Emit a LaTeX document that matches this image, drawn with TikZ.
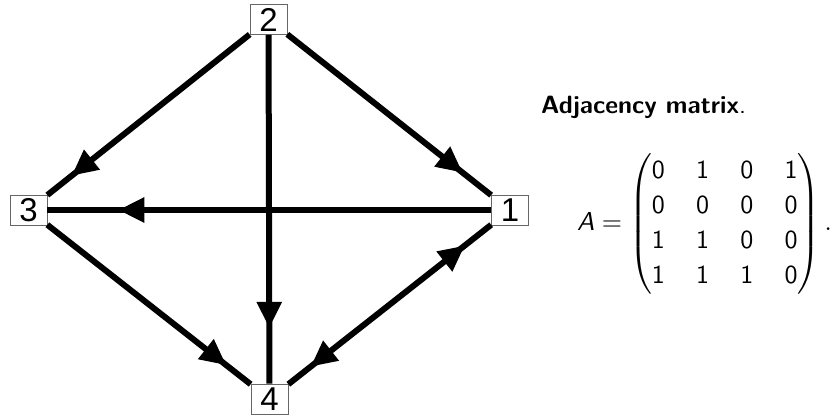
\documentclass[tikz,border=0pt]{standalone}
\usepackage{fontspec}
\usepackage{amsmath}
\usepackage{graphicx}
\usetikzlibrary{arrows.meta,decorations.markings}
\newfontfamily\lab{Liberation Sans}
\begin{document}
\begin{tikzpicture}[x=1pt,y=-1pt,
  vbox/.style={draw=black!60,line width=0.7pt,fill=white,minimum width=37pt,minimum height=30pt,inner sep=0pt,font=\lab\fontsize{33}{33}\selectfont},
  edge/.style={line width=6pt},
  midarrow/.style={postaction={decorate},decoration={markings,mark=at position #1 with {\arrow{Triangle[length=26pt,width=24pt]}}}},
  bothmid/.style 2 args={postaction={decorate},decoration={markings,mark=at position #1 with {\arrow{Triangle[length=26pt,width=24pt]}},mark=at position #2 with {\arrowreversed{Triangle[length=26pt,width=24pt]}}}}
]
\useasboundingbox (0,0) rectangle (836,417);
\node[vbox] (n2) at (268.5,19.5) {2};
\node[vbox] (n3) at (28.5,210) {3};
\node[vbox] (n1) at (510,210) {1};
\node[vbox] (n4) at (269.5,399) {4};
\draw[edge,midarrow=0.88] (n2) -- (n3);
\draw[edge,midarrow=0.86] (n2) -- (n1);
\draw[edge,midarrow=0.84] (n1) -- (n3);
\draw[edge,midarrow=0.84] (n2) -- (n4);
\draw[edge,midarrow=0.88] (n3) -- (n4);
\draw[edge,bothmid={0.87}{0.11}] (n4) -- (n1);
\node[anchor=base west,inner sep=0pt] (title) at (541,114) {\scalebox{2.5}{\sffamily\textbf{Adjacency matrix}.}};
\node[anchor=west,inner sep=0pt] (mat) at (577,224) {\scalebox{2.6}{\setlength{\arraycolsep}{6pt}\renewcommand{\arraystretch}{1.12}$\textsf{\textit{A}} = \begin{pmatrix}\mathsf{0}&\mathsf{1}&\mathsf{0}&\mathsf{1}\\ \mathsf{0}&\mathsf{0}&\mathsf{0}&\mathsf{0}\\ \mathsf{1}&\mathsf{1}&\mathsf{0}&\mathsf{0}\\ \mathsf{1}&\mathsf{1}&\mathsf{1}&\mathsf{0}\end{pmatrix}.$}};
\end{tikzpicture}
\end{document}
